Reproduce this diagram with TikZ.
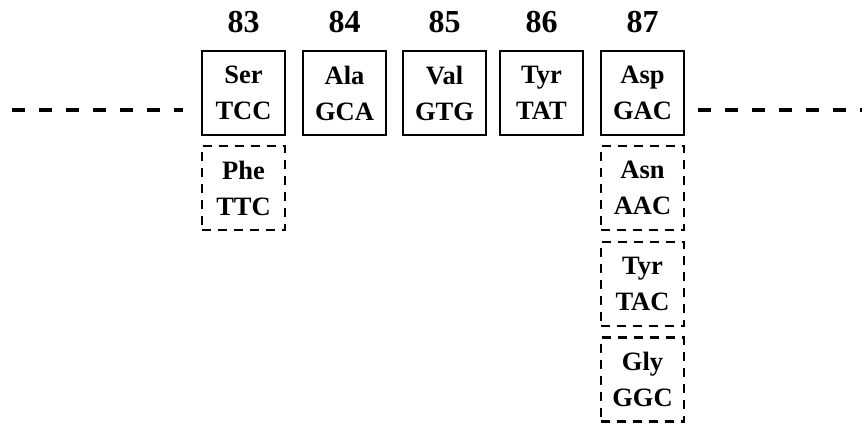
\documentclass[tikz,border=0pt]{standalone}
\usepackage{fontspec}
\setmainfont{Liberation Serif}
\begin{document}
\begin{tikzpicture}[x=1pt,y=-1pt,
  codon/.style={draw, line width=2.4pt, minimum width=83pt, minimum height=84pt,
    inner sep=0pt, align=center, font=\bfseries\fontsize{26.5}{36}\selectfont},
  variant/.style={codon, dash pattern=on 9pt off 7pt},
  posnum/.style={font=\bfseries\fontsize{32}{36}\selectfont},
  chain/.style={line width=4pt, dash pattern=on 13pt off 14pt}]
\useasboundingbox (0,0) rectangle (862,423);
% main codon row
\node[codon] (s83) at (243.5,93) {Ser\\TCC};
\node[codon] (s84) at (344.5,93) {Ala\\GCA};
\node[codon] (s85) at (444.5,93) {Val\\GTG};
\node[codon] (s86) at (541.5,93) {Tyr\\TAT};
\node[codon] (s87) at (642.5,93) {Asp\\GAC};
% residue positions
\foreach \n in {83,84,85,86,87}
  \node[posnum] (p\n) at ([yshift=71pt]s\n.center) {\n};
% alternative codons
\node[variant] (v83) at (243.5,188) {Phe\\TTC};
\node[variant] (v87a) at (642.5,188) {Asn\\AAC};
\node[variant] (v87b) at (642.5,284) {Tyr\\TAC};
\node[variant] (v87c) at (642.5,379.5) {Gly\\GGC};
% continuing sequence
\coordinate (la) at (12,110);
\coordinate (lb) at (183,110);
\coordinate (ra) at (698,110);
\coordinate (rb) at (862,110);
\draw[chain] (la) -- (lb);
\draw[chain] (ra) -- (rb);
\end{tikzpicture}
\end{document}
